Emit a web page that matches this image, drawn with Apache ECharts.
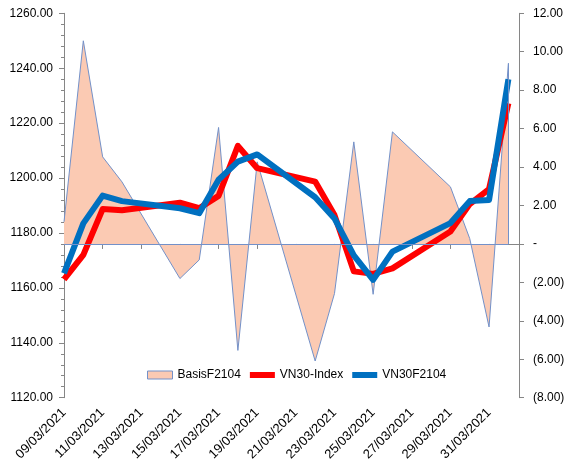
<!DOCTYPE html>
<html>
<head>
<meta charset="utf-8">
<script src="https://cdn.jsdelivr.net/npm/echarts@6/dist/echarts.min.js"></script>
<style>
html,body{margin:0;padding:0;background:#fff;}
#c{width:572px;height:468px;}
</style>
</head>
<body>
<div id="c"></div>
<script>
const dates = ['09/03/2021','10/03/2021','11/03/2021','12/03/2021','15/03/2021','16/03/2021','17/03/2021','18/03/2021','19/03/2021','22/03/2021','23/03/2021','24/03/2021','25/03/2021','26/03/2021','29/03/2021','30/03/2021','31/03/2021','01/04/2021'];
const basisF2104 = [1.15, 10.57, 4.53, 3.23, -1.80, -0.83, 6.06, -5.54, 4.27, -6.09, -2.58, 5.31, -2.62, 5.83, 2.97, 0.28, -4.32, 9.40];
const vn30Index = [1163.1, 1172.0, 1188.7, 1188.3, 1191.0, 1189.0, 1193.5, 1211.7, 1203.6, 1198.7, 1186.5, 1166.0, 1165.1, 1167.1, 1180.5, 1190.5, 1196.0, 1227.2];
const vn30F2104 = [1165.3, 1183.5, 1193.6, 1191.6, 1189.0, 1187.2, 1199.4, 1206.0, 1208.6, 1193.0, 1185.3, 1171.8, 1162.9, 1173.2, 1183.6, 1191.6, 1192.0, 1236.0];
const leftTicks = {min: 1120, max: 1260, step: 20};
const rightTicks = {min: -8, max: 12, step: 2};

function parseD(s){const p=s.split('/');return Date.UTC(+p[2],+p[1]-1,+p[0]);}
const DAY = 86400000;
const t0 = parseD(dates[0]);
const xs = dates.map(d => (parseD(d)-t0)/DAY);
function fmtDay(v){
  const d = new Date(t0 + Math.round(v)*DAY);
  const dd = String(d.getUTCDate()).padStart(2,'0');
  const mm = String(d.getUTCMonth()+1).padStart(2,'0');
  return dd + '/' + mm + '/' + d.getUTCFullYear();
}
function pair(vals){return xs.map((x,i)=>[x, vals[i]]);}

const FONT = 'Liberation Sans';
const axisGray = '#868686';
const areaLine = '#7391c9';
const peach = '#fbcab3';
const lastX = xs[xs.length-1];
const lineIcon = 'path://M0,0H25V6H0Z';

const chart = echarts.init(document.getElementById('c'), null, {renderer:'canvas'});
chart.setOption({
  animation: false,
  backgroundColor: '#fff',
  textStyle: {fontFamily: FONT},
  grid: {left: 64, right: 53, top: 13.3, bottom: 70.3},
  legend: {
    left: 142, top: 364,
    itemWidth: 25, itemHeight: 8, itemGap: 9,
    textStyle: {fontFamily: FONT, fontSize: 12, color: '#000'},
    data: [
      {name: 'BasisF2104', icon: 'rect', itemStyle: {color: peach, borderColor: areaLine, borderWidth: 1}},
      {name: 'VN30-Index', icon: lineIcon, itemStyle: {color: '#ff0000', borderWidth: 0}},
      {name: 'VN30F2104', icon: lineIcon, itemStyle: {color: '#0070c0', borderWidth: 0}}
    ]
  },
  xAxis: {
    type: 'value', min: 0, max: 23.55, interval: 2,
    splitLine: {show: false},
    axisLine: {lineStyle: {color: axisGray}},
    axisTick: {length: 5, lineStyle: {color: axisGray}},
    axisLabel: {rotate: 45, margin: 13, fontSize: 13, color: '#000', fontFamily: FONT, showMaxLabel: false,
      formatter: v => fmtDay(v)}
  },
  yAxis: [
    {
      type: 'value', position: 'left', min: leftTicks.min, max: leftTicks.max, interval: leftTicks.step,
      splitLine: {show: false},
      axisLine: {show: true, lineStyle: {color: axisGray}},
      axisTick: {show: true, length: 5, lineStyle: {color: axisGray}},
      minorTick: {show: true, splitNumber: 5, length: 3, lineStyle: {color: axisGray}},
      minorSplitLine: {show: false},
      axisLabel: {margin: 11, fontSize: 12, color: '#000', fontFamily: FONT, formatter: v => v.toFixed(2)}
    },
    {
      type: 'value', position: 'right', min: rightTicks.min, max: rightTicks.max, interval: rightTicks.step,
      splitLine: {show: false},
      axisLine: {show: true, lineStyle: {color: axisGray}},
      axisTick: {show: true, length: 5, lineStyle: {color: axisGray}},
      axisLabel: {margin: 14, fontSize: 12, color: '#000', fontFamily: FONT, align: 'left',
        formatter: v => v === 0 ? '-' : (v < 0 ? '(' + Math.abs(v).toFixed(2) + ')' : v.toFixed(2))}
    }
  ],
  series: [
    {
      name: 'BasisF2104', type: 'line', yAxisIndex: 1, data: pair(basisF2104),
      symbol: 'none', z: 1,
      lineStyle: {width: 1, color: areaLine},
      itemStyle: {color: areaLine},
      areaStyle: {color: peach, opacity: 1, origin: 0},
      markLine: {
        silent: true, symbol: ['none','none'], animation: false,
        label: {show: false},
        lineStyle: {type: 'solid', width: 1, color: areaLine},
        data: [
          [{coord: [xs[0], 0]}, {coord: [lastX, 0]}],
          [{coord: [lastX, 0]}, {coord: [lastX, basisF2104[basisF2104.length-1]]}]
        ]
      }
    },
    {
      name: 'VN30-Index', type: 'line', yAxisIndex: 0, data: pair(vn30Index),
      symbol: 'none', z: 3,
      lineStyle: {width: 6, color: '#ff0000', join: 'round'},
      itemStyle: {color: '#ff0000'}
    },
    {
      name: 'VN30F2104', type: 'line', yAxisIndex: 0, data: pair(vn30F2104),
      symbol: 'none', z: 4,
      lineStyle: {width: 6, color: '#0070c0', join: 'round'},
      itemStyle: {color: '#0070c0'}
    }
  ]
});
</script>
</body>
</html>
